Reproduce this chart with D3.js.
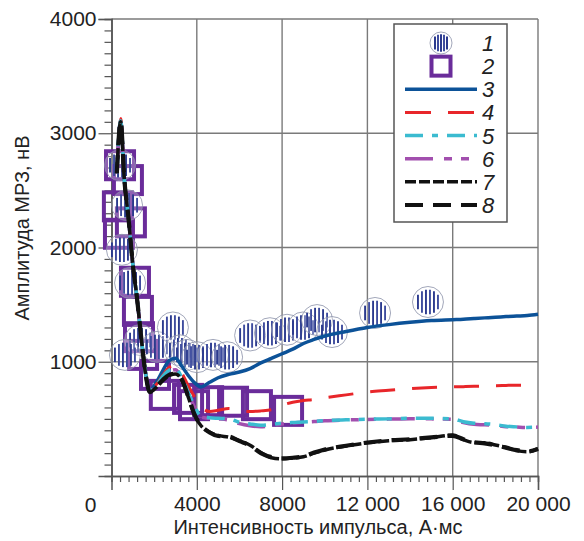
<!DOCTYPE html>
<html><head><meta charset="utf-8">
<script src="https://cdn.jsdelivr.net/npm/d3@7"></script>
<style>
html,body{margin:0;padding:0;background:#fff;}
svg{display:block;font-family:"Liberation Sans",Arial,sans-serif;}
</style></head>
<body>
<svg id="chart" width="584" height="541"></svg>
<script>
// ---------- data ----------
const xGrid = [250, 430, 600, 800, 1000, 1200, 1400, 1600, 1800, 2100, 2400, 2700, 3000, 3300, 3600, 3900, 4200, 4600, 5000, 5500, 6000, 6500, 7000, 7500, 8000, 8500, 9000, 9500, 10000, 11000, 12000, 13000, 14000, 15000, 16000, 16500, 17000, 17500, 18000, 18500, 19000, 19500, 20000];
const startCommon = [2650, 3110, 2600, 2250, 1850, 1550, 1200, 900, 750];
const startRed    = [2650, 3130, 2610, 2255, 1855, 1552, 1205, 902, 752];
const startBlack  = [2650, 3100, 2600, 2250, 1850, 1550, 1200, 890, 735];
const series3 = startCommon.concat([820, 920, 1010, 1030, 960, 880, 815, 780, 820, 860, 890, 910, 940, 990, 1030, 1070, 1110, 1160, 1195, 1225, 1265, 1300, 1325, 1345, 1360, 1368, 1372, 1378, 1384, 1390, 1395, 1400, 1405, 1415]);
const series4 = startRed.concat([800, 880, 950, 970, 900, 790, 690, 605, 565, 575, 590, 575, 565, 570, 580, 620, 645, 660, 670, 685, 710, 735, 750, 765, 775, 780, 782, 785, 788, 790, 793, 795, 795, 795]);
const series5 = startCommon.concat([790, 870, 925, 940, 860, 730, 610, 520, 510, 505, 500, 470, 455, 445, 452, 462, 468, 472, 478, 485, 492, 497, 500, 505, 505, 500, 475, 462, 458, 450, 436, 430, 425, 428]);
const series6 = startCommon.concat([785, 860, 915, 930, 850, 720, 600, 515, 505, 500, 490, 458, 440, 432, 440, 455, 465, 470, 476, 483, 490, 495, 498, 502, 500, 495, 468, 452, 448, 442, 432, 428, 425, 428]);
const series7 = startBlack.concat([775, 835, 880, 893, 840, 690, 530, 440, 385, 355, 340, 310, 270, 205, 160, 150, 158, 168, 200, 228, 262, 290, 308, 318, 335, 358, 318, 292, 290, 272, 250, 222, 212, 240]);
const series8 = startBlack.concat([780, 840, 885, 895, 845, 695, 535, 445, 380, 350, 345, 305, 265, 200, 165, 155, 160, 172, 205, 232, 265, 293, 312, 322, 338, 352, 322, 296, 286, 268, 248, 226, 215, 236]);

// series 1: circles (x, y)
const circleX = [400, 730, 490, 870, 1340, 630, 2130, 2880, 3210, 3540, 4010, 4760, 5420, 6500, 7430, 8230, 8980, 9640, 10340, 12360, 14840];
const circleY = [2720, 2370, 1980, 1690, 1190, 1060, 1130, 1300, 1100, 1060, 1040, 1060, 1040, 1230, 1250, 1280, 1300, 1365, 1260, 1427, 1523];
// series 2: squares (x, y)
const squareX = [400, 770, 300, 350, 910, 1100, 1240, 1290, 1480, 2040, 2500, 3590, 3870, 4530, 5700, 6820, 8280];
const squareY = [2720, 2590, 2360, 2120, 2220, 1700, 1445, 1215, 1060, 885, 710, 675, 620, 655, 650, 620, 570];

const xTickValues = [4000, 8000, 12000, 16000, 20000];
const xTickLabels = ["4000", "8000", "12 000", "16 000", "20 000"];
const yTickValues = [1000, 2000, 3000, 4000];
const yTickLabels = ["1000", "2000", "3000", "4000"];
const legendLabels = ["1", "2", "3", "4", "5", "6", "7", "8"];
const xTitle = "Интенсивность импульса, А·мс";
const yTitle = "Амплитуда МРЗ, нВ";

// ---------- setup ----------
const svg = d3.select("#chart");
const x = d3.scaleLinear().domain([0, 20000]).range([111.5, 538]);
const y = d3.scaleLinear().domain([0, 4000]).range([476, 19]);
const textColor = "#222";

// grid
const grid = svg.append("g");
grid.selectAll("line.vx").data(xTickValues).join("line")
  .attr("x1", d => x(d)).attr("x2", d => x(d)).attr("y1", y(4000)).attr("y2", y(0))
  .attr("stroke", "#7a7a7a").attr("stroke-width", 1.4);
grid.selectAll("line.hy").data(yTickValues).join("line")
  .attr("x1", x(0)).attr("x2", x(20000)).attr("y1", d => y(d)).attr("y2", d => y(d))
  .attr("stroke", "#7a7a7a").attr("stroke-width", 1.4);

// axes
const xMinor = d3.axisBottom(x).tickValues(d3.range(400, 20000, 400).filter(v => v % 4000 !== 0)).tickSize(6).tickFormat("");
const xMajor = d3.axisBottom(x).tickValues(xTickValues).tickSize(14).tickPadding(6)
  .tickFormat((d, i) => xTickLabels[i]);
const yMinor = d3.axisLeft(y).tickValues(d3.range(100, 4000, 100).filter(v => v % 1000 !== 0)).tickSize(7).tickFormat("");
const yMajor = d3.axisLeft(y).tickValues(yTickValues).tickSize(13).tickPadding(2)
  .tickFormat((d, i) => yTickLabels[i]);

function styleAxis(g) {
  g.select(".domain").attr("stroke", "#555").attr("stroke-width", 1.5);
  g.selectAll(".tick line").attr("stroke", "#555").attr("stroke-width", 1.2);
  g.selectAll(".tick text").attr("fill", textColor).attr("font-size", 21)
    .attr("font-family", "'Liberation Sans', Arial, sans-serif");
}
svg.append("g").attr("transform", `translate(0,${y(0)})`).call(xMinor).call(styleAxis);
svg.append("g").attr("transform", `translate(0,${y(0)})`).call(xMajor).call(styleAxis);
svg.append("g").attr("transform", `translate(${x(0)},0)`).call(yMinor).call(styleAxis);
svg.append("g").attr("transform", `translate(${x(0)},0)`).call(yMajor).call(styleAxis);

// corner zero
svg.append("text").attr("x", x(0) - 21).attr("y", y(0) + 36).attr("text-anchor", "middle")
  .attr("font-size", 21).attr("fill", textColor).text("0");

// titles
svg.append("text").attr("x", 318).attr("y", 534).attr("text-anchor", "middle")
  .attr("font-size", 20).attr("fill", textColor).text(xTitle);
svg.append("text").attr("transform", `translate(29,228) rotate(-90)`).attr("text-anchor", "middle")
  .attr("font-size", 20).attr("fill", textColor).text(yTitle);

// ---------- marks ----------
const plot = svg.append("g");
const purple = "#6a2c9a";
const stripeBlue = "#2b3a8e";

// squares
const sqSide = 28;
plot.selectAll("rect.sq").data(squareX.map((d, i) => [d, squareY[i]])).join("rect")
  .attr("x", d => x(d[0]) - sqSide / 2).attr("y", d => y(d[1]) - sqSide / 2)
  .attr("width", sqSide).attr("height", sqSide)
  .attr("fill", "none").attr("stroke", purple).attr("stroke-width", 4);

// hatched circle
function hatchedCircle(g, cx, cy, r, offsets, sw) {
  g.append("circle").attr("cx", cx).attr("cy", cy).attr("r", r)
    .attr("fill", "#fff").attr("fill-opacity", 0.25)
    .attr("stroke", "#8a90a8").attr("stroke-width", 0.8);
  const rin = r * 0.8;
  offsets.forEach((o, k) => {
    const h = Math.sqrt(Math.max(rin * rin - o * o, 0));
    g.append("line").attr("x1", cx + o).attr("x2", cx + o)
      .attr("y1", cy - h).attr("y2", cy + h)
      .attr("stroke", k % 2 ? "#3e4c9e" : stripeBlue).attr("stroke-width", sw);
  });
}
const circG = plot.append("g");
circleX.forEach((cx, i) => hatchedCircle(circG, x(cx), y(circleY[i]), 15.5, [-10, -6, -2, 2, 6, 10], 1.9));

// lines
const lineGen = d3.line().x((d, i) => x(xGrid[i])).y(d => y(d)).curve(d3.curveMonotoneX);
const lineStyles = [
  { data: series3, color: "#0c5298", w: 3.5, dash: null },
  { data: series4, color: "#e8262a", w: 3, dash: "25,17" },
  { data: series6, color: "#a24fae", w: 3.5, dash: "28,11,8,9,8,11" },
  { data: series5, color: "#3bbbd0", w: 3.5, dash: "18,9,6,9" },
  { data: series7, color: "#111", w: 3.5, dash: "11,3" },
  { data: series8, color: "#111", w: 4.2, dash: "18,10" }
];
lineStyles.forEach(s => {
  plot.append("path").attr("d", lineGen(s.data)).attr("fill", "none")
    .attr("stroke", s.color).attr("stroke-width", s.w)
    .attr("stroke-dasharray", s.dash).attr("stroke-linejoin", "round");
});

// ---------- legend ----------
const lg = svg.append("g");
lg.append("rect").attr("x", 394).attr("y", 24).attr("width", 113).attr("height", 198)
  .attr("fill", "#fff").attr("stroke", "#555").attr("stroke-width", 1.5);
const rowY = d3.scaleLinear().domain([0, 7]).range([43, 205]);
hatchedCircle(lg, 441, rowY(0), 11, [-6, -3, 0, 3, 6], 2);
lg.append("rect").attr("x", 441 - 9.5).attr("y", rowY(1) - 9.5).attr("width", 19).attr("height", 19)
  .attr("fill", "none").attr("stroke", purple).attr("stroke-width", 4);
const legendLineOrder = [series3, series4, series5, series6, series7, series8];
const legendStyles = [
  { color: "#0c5298", w: 3.5, dash: null },
  { color: "#e8262a", w: 3, dash: "26,17" },
  { color: "#3bbbd0", w: 3.5, dash: "18,9,6,9" },
  { color: "#a24fae", w: 3.5, dash: "28,11,8,9,8,11" },
  { color: "#111", w: 3.5, dash: "11,3" },
  { color: "#111", w: 4.2, dash: "18,10" }
];
legendStyles.forEach((s, i) => {
  lg.append("line").attr("x1", 405).attr("x2", 477).attr("y1", rowY(i + 2)).attr("y2", rowY(i + 2))
    .attr("stroke", s.color).attr("stroke-width", s.w).attr("stroke-dasharray", s.dash);
});
lg.selectAll("text.lab").data(legendLabels).join("text")
  .attr("x", 488).attr("y", (d, i) => rowY(i) + 8).attr("text-anchor", "middle")
  .attr("font-size", 22).attr("font-style", "italic").attr("fill", textColor).text(d => d);
</script>
</body></html>
